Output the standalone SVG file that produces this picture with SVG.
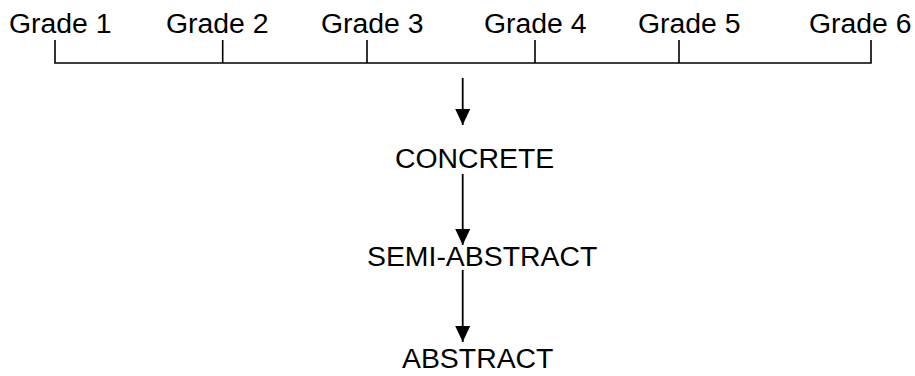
<svg xmlns="http://www.w3.org/2000/svg" width="915" height="376" viewBox="0 0 915 376">
<defs>
<style>
text{font-family:"Liberation Sans",Arial,sans-serif;font-size:28.4px;fill:#000}
.ln{stroke:#000;stroke-width:1.6;fill:none}
.ar{stroke:#000;stroke-width:1.8;fill:none}
</style>
<marker id="ah" markerWidth="16" markerHeight="15" refX="16" refY="7.5" orient="auto" markerUnits="userSpaceOnUse" viewBox="0 0 16 15">
<path d="M0,0 L16,7.5 L0,15 Z" fill="#000"/>
</marker>
</defs>
<rect width="915" height="376" fill="#fff"/>
<g id="grades">
<text x="9" y="33">Grade 1</text>
<text x="166" y="33">Grade 2</text>
<text x="321" y="33">Grade 3</text>
<text x="484" y="33">Grade 4</text>
<text x="638" y="33">Grade 5</text>
<text x="809" y="33">Grade 6</text>
</g>
<g id="timeline">
<path class="ln" d="M55,40 V63 H871 V40 M222.7,40 V63 M367,40 V63 M535,40 V63 M679,40 V63"/>
</g>
<g id="concrete"><text x="395" y="168">CONCRETE</text></g>
<g id="semi-abstract"><text x="367" y="266">SEMI-ABSTRACT</text></g>
<g id="abstract"><text x="402" y="368">ABSTRACT</text></g>
<g id="connectors">
<path class="ar" d="M462.7,78 V125" marker-end="url(#ah)"/>
<path class="ar" d="M462.7,174 V245" marker-end="url(#ah)"/>
<path class="ar" d="M462.7,270 V342" marker-end="url(#ah)"/>
</g>
</svg>
